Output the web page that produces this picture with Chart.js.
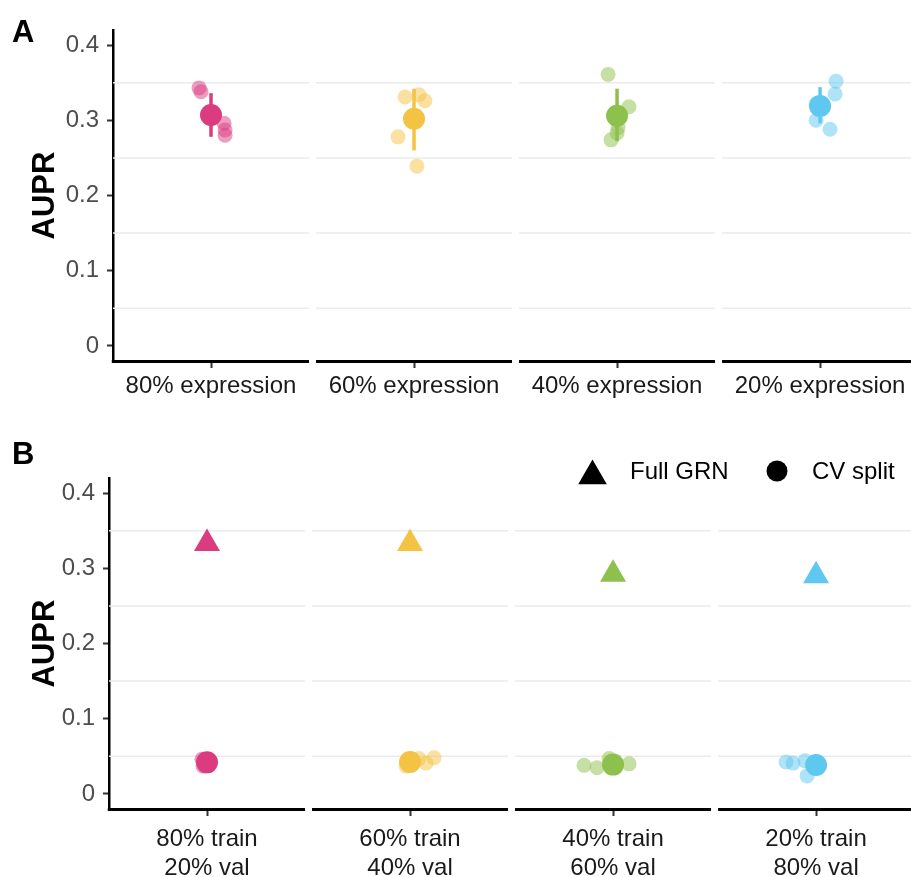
<!DOCTYPE html>
<html>
<head>
<meta charset="utf-8">
<title>AUPR by split</title>
<script src="https://cdn.jsdelivr.net/npm/chart.js@4.4.1/dist/chart.umd.min.js"></script>
<style>
  html, body { margin: 0; padding: 0; background: #fff; }
  body { position: relative; width: 911px; height: 877px; overflow: hidden; font-family: "Liberation Sans", Arial, sans-serif; }
  canvas { position: absolute; left: 0; }
  #chartA { top: 0; }
  #chartB { top: 420px; }
  .tag { position: absolute; left: 12px; font-weight: bold; font-size: 31px; line-height: 1; color: #000; }
</style>
</head>
<body>
<canvas id="chartA" width="925" height="410"></canvas>
<canvas id="chartB" width="925" height="457"></canvas>
<div class="tag" style="top:16px">A</div>
<div class="tag" style="top:438px">B</div>
<script>
// ---- data ----
const labelsA = ['80% expression', '60% expression', '40% expression', '20% expression'];
const labelsB = [['80% train', '20% val'], ['60% train', '40% val'], ['40% train', '60% val'], ['20% train', '80% val']];
const colors = ['#DB3B7F', '#F5C343', '#8DC04C', '#5FC8F0'];

const yTicks = [0, 0.1, 0.2, 0.3, 0.4];
const gridValues = [0.05, 0.15, 0.25, 0.35];

// panel A: 5 replicate AUPRs per group, with jitter offsets (x units)
const repA = [
  [0.343, 0.338, 0.296, 0.287, 0.280],
  [0.331, 0.334, 0.326, 0.278, 0.239],
  [0.361, 0.318, 0.290, 0.283, 0.274],
  [0.352, 0.335, 0.322, 0.300, 0.288]
];
const jitA = [
  [-0.073, -0.061, 0.080, 0.086, 0.086],
  [-0.055, 0.031, 0.067, -0.098, 0.018],
  [-0.055, 0.073, 0.006, 0.000, -0.037],
  [0.098, 0.092, -0.024, -0.024, 0.061]
];
const meanA = [0.307, 0.302, 0.306, 0.319];
const lowA = [0.278, 0.260, 0.272, 0.296];
const highA = [0.336, 0.342, 0.342, 0.344];

// panel B: full GRN value plus CV split replicates
const fullGRN = [0.333, 0.333, 0.292, 0.290];
const repB = [
  [0.046, 0.044, 0.042, 0.040, 0.037],
  [0.047, 0.041, 0.048, 0.040, 0.037],
  [0.038, 0.035, 0.047, 0.040, 0.036],
  [0.0425, 0.041, 0.044, 0.024, 0.040]
];
const jitB = [
  [-0.031, -0.018, 0.000, 0.012, -0.024],
  [0.055, 0.098, 0.147, -0.012, -0.024],
  [-0.178, -0.098, -0.024, 0.098, 0.000],
  [-0.184, -0.141, -0.067, -0.055, 0.000]
];
const meanB = [0.042, 0.0425, 0.039, 0.0385];
const lowB = [0.038, 0.037, 0.034, 0.030];
const highB = [0.046, 0.048, 0.044, 0.047];

// ---- facet geometry ----
const HALF = 0.6;                 // half width of one facet (x units)
const STEP = 1.243;               // distance between facet centres
const centers = [0, STEP, 2 * STEP, 3 * STEP];
const PX_PER_UNIT = 196 / 1.2;
const CANVAS_W = 925;

Chart.defaults.font.family = '"Liberation Sans", Arial, Helvetica, sans-serif';
Chart.defaults.color = '#4D4D4D';

function withAlpha(hex, a) {
  const n = parseInt(hex.slice(1), 16);
  return `rgba(${n >> 16}, ${(n >> 8) & 255}, ${n & 255}, ${a})`;
}

function replicateSet(values, jitter) {
  const data = [], fill = [];
  values.forEach((vals, g) => vals.forEach((v, i) => {
    data.push({x: centers[g] + jitter[g][i], y: v});
    fill.push(withAlpha(colors[g], 0.5));
  }));
  return {data, backgroundColor: fill, pointRadius: 7.5, borderWidth: 0, order: 3};
}

function errorBarSets(low, high) {
  return low.map((lo, g) => ({
    data: [{x: centers[g], y: lo}, {x: centers[g], y: high[g]}],
    showLine: true, borderColor: colors[g], borderWidth: 3.5, pointRadius: 0, order: 2
  }));
}

function meanSet(means, style, radius) {
  return {
    data: means.map((m, g) => ({x: centers[g], y: m})),
    backgroundColor: colors, pointStyle: style, pointRadius: radius, borderWidth: 0, order: 1
  };
}

// light grid and x axis line, drawn separately inside each facet
const facetPlugin = {
  id: 'facetPanels',
  beforeDatasetsDraw(chart) {
    const {ctx, scales: {x, y}} = chart;
    ctx.save();
    ctx.strokeStyle = '#EBEBEB';
    ctx.lineWidth = 1.5;
    centers.forEach(c => {
      const l = x.getPixelForValue(c - HALF), r = x.getPixelForValue(c + HALF);
      gridValues.forEach(v => {
        const py = y.getPixelForValue(v);
        ctx.beginPath(); ctx.moveTo(l, py); ctx.lineTo(r, py); ctx.stroke();
      });
    });
    ctx.restore();
  },
  afterDatasetsDraw(chart) {
    const {ctx, chartArea, scales: {x}} = chart;
    ctx.save();
    ctx.strokeStyle = '#000';
    ctx.lineWidth = 3;
    centers.forEach((c, g) => {
      const l = x.getPixelForValue(c - HALF) - (g === 0 ? 1.2 : 0);
      const r = x.getPixelForValue(c + HALF);
      ctx.beginPath(); ctx.moveTo(l, chartArea.bottom + 0.5); ctx.lineTo(r, chartArea.bottom + 0.5); ctx.stroke();
    });
    ctx.restore();
  }
};

// shape legend in the top right of panel B
const shapeLegend = {
  id: 'shapeLegend',
  afterDraw(chart) {
    const ctx = chart.ctx;
    ctx.save();
    ctx.fillStyle = '#000';
    ctx.strokeStyle = '#000';
    Chart.helpers.drawPoint(ctx, {pointStyle: 'triangle', radius: 16.5, rotation: 0, borderWidth: 0}, 592.5, 56);
    Chart.helpers.drawPoint(ctx, {pointStyle: 'circle', radius: 10.5, rotation: 0, borderWidth: 0}, 777, 51);
    ctx.font = '24px "Liberation Sans", Arial, sans-serif';
    ctx.textBaseline = 'middle';
    ctx.fillStyle = '#000';
    ctx.fillText('Full GRN', 630, 52);
    ctx.fillText('CV split', 812, 52);
    ctx.restore();
  }
};

function axes(left, labels, xHeight, labelPad) {
  return {
    x: {
      type: 'linear',
      min: -HALF,
      max: (CANVAS_W - left) / PX_PER_UNIT - HALF,
      afterBuildTicks: s => { s.ticks = centers.map(v => ({value: v})); },
      afterFit: s => { s.height = xHeight; s.paddingLeft = 0; s.paddingRight = 0; },
      border: {display: false},
      grid: {drawOnChartArea: false, drawTicks: true, tickLength: 7, tickWidth: 2, tickColor: '#333'},
      ticks: {
        callback: (v, i) => labels[i],
        autoSkip: false, maxRotation: 0,
        font: {size: 24}, color: '#1A1A1A', padding: labelPad
      }
    },
    y: {
      min: -0.02,
      max: 0.42,
      afterBuildTicks: s => { s.ticks = yTicks.map(v => ({value: v})); },
      afterFit: s => { s.width = left; s.paddingTop = 0; s.paddingBottom = 0; },
      border: {display: true, color: '#000', width: 2.5},
      grid: {drawOnChartArea: false, drawTicks: true, tickLength: 6, tickWidth: 2, tickColor: '#333'},
      ticks: {callback: v => String(v), font: {size: 24}, color: '#4D4D4D', padding: 8},
      title: {
        display: true, text: 'AUPR', color: '#000',
        font: {size: 31, weight: 'bold'}, padding: {top: 27, bottom: 0}
      }
    }
  };
}

const baseOptions = {
  responsive: false,
  animation: false,
  events: [],
  plugins: {legend: {display: false}, tooltip: {enabled: false}}
};

new Chart(document.getElementById('chartA'), {
  type: 'scatter',
  data: {
    datasets: [
      replicateSet(repA, jitA),
      ...errorBarSets(lowA, highA),
      meanSet(meanA, 'circle', 11)
    ]
  },
  options: Object.assign({}, baseOptions, {
    layout: {autoPadding: false, padding: {top: 30, left: 0, right: 0, bottom: 0}},
    scales: axes(113, labelsA, 49, 4)
  }),
  plugins: [facetPlugin]
});

new Chart(document.getElementById('chartB'), {
  type: 'scatter',
  data: {
    datasets: [
      replicateSet(repB, jitB),
      ...errorBarSets(lowB, highB),
      meanSet(meanB, 'circle', 11),
      meanSet(fullGRN, 'triangle', 15)
    ]
  },
  options: Object.assign({}, baseOptions, {
    layout: {autoPadding: false, padding: {top: 58, left: 0, right: 0, bottom: 0}},
    scales: axes(109, labelsB, 68, 9)
  }),
  plugins: [facetPlugin, shapeLegend]
});
</script>
</body>
</html>
